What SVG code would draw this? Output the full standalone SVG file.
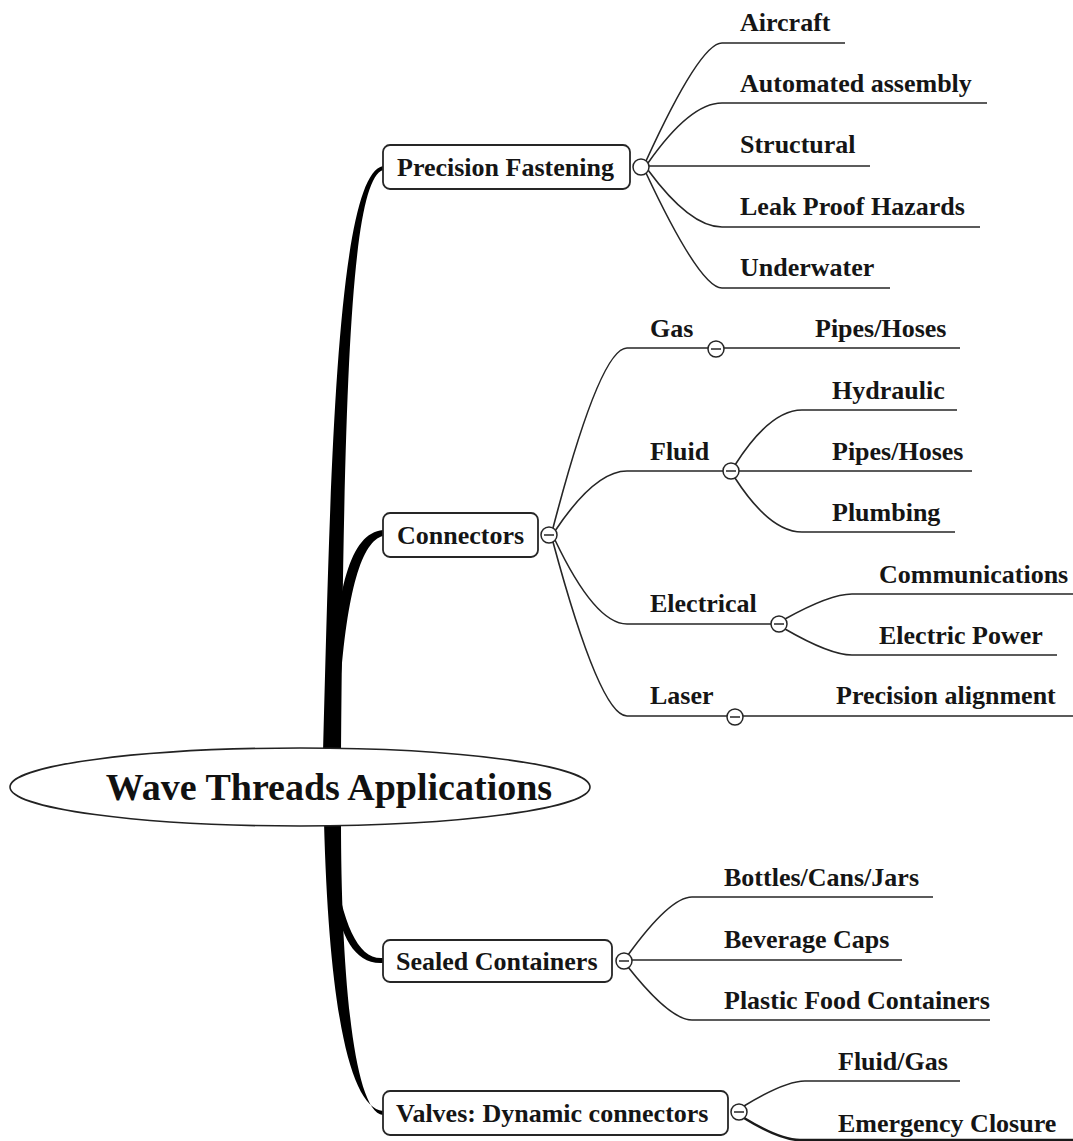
<svg xmlns="http://www.w3.org/2000/svg" width="1073" height="1141" viewBox="0 0 1073 1141">
<style>
.lbl{font-family:"Liberation Serif","Times New Roman",serif;font-weight:bold;font-size:26px;fill:#151515;}
.ttl{font-family:"Liberation Serif","Times New Roman",serif;font-weight:bold;font-size:38px;fill:#111;}
.ln{fill:none;stroke:#262626;stroke-width:1.6;}
.box{fill:#fff;stroke:#262626;stroke-width:1.8;}
.tog{fill:#fff;stroke:#262626;stroke-width:1.5;}
.minus{stroke:#262626;stroke-width:1.5;}
.trunk{fill:#000;}
</style>
<rect width="1073" height="1141" fill="#fff"/>
<g id="connectors">
  <!-- trunk branches -->
  <path class="trunk" d="M323,752 C330,500 335,175 383,166 L383,170 C350,180 344,400 341,752 Z"/>
  <path class="trunk" d="M332,690 C336,590 350,533 383,530 L383,536 C362,541 347,590 340,690 Z"/>
  <path class="trunk" d="M333,860 C343,925 358,960 383,958 L383,963 C355,965 340,935 336,900 Z"/>
  <path class="trunk" d="M324,822 C329,1010 350,1108 383,1111 L383,1115 C352,1112 341,960 341,822 Z"/>
  <!-- Precision Fastening leaves -->
  <path class="ln" d="M646,161 Q700,43 722,43 L845,43"/>
  <path class="ln" d="M648,163 Q690,103 722,103 L987,103"/>
  <path class="ln" d="M649,166 L870,166"/>
  <path class="ln" d="M648,170 Q690,227 722,227 L980,227"/>
  <path class="ln" d="M646,173 Q700,288 722,288 L890,288"/>
  <!-- Connectors branches -->
  <path class="ln" d="M553,528 Q600,348 627,348 L960,348"/>
  <path class="ln" d="M555,531 Q595,471 627,471 L972,471"/>
  <path class="ln" d="M555,540 Q595,624 627,624 L771,624"/>
  <path class="ln" d="M553,542 Q600,716 627,716 L1073,716"/>
  <!-- Fluid leaves -->
  <path class="ln" d="M735,465 Q770,410 802,410 L957,410"/>
  <path class="ln" d="M735,478 Q770,532 802,532 L955,532"/>
  <!-- Electrical leaves -->
  <path class="ln" d="M785,619 Q830,594 852,594 L1073,594"/>
  <path class="ln" d="M785,629 Q830,655 852,655 L1057,655"/>
  <!-- Sealed Containers leaves -->
  <path class="ln" d="M628,955 Q670,897 692,897 L933,897"/>
  <path class="ln" d="M632,960 L902,960"/>
  <path class="ln" d="M628,967 Q670,1020 692,1020 L990,1020"/>
  <!-- Valves leaves -->
  <path class="ln" d="M744,1106 Q785,1081 805,1081 L960,1081"/>
  <path d="M744,1118 Q780,1140 800,1140 L1073,1140" fill="none" stroke="#1a1a1a" stroke-width="2.6"/>
</g>
<g id="root">
  <ellipse cx="300" cy="787" rx="290" ry="39" fill="#fff" stroke="#222" stroke-width="1.6"/>
  <text class="ttl" x="329" y="800" text-anchor="middle">Wave Threads Applications</text>
</g>
<g id="precision-fastening">
  <rect class="box" x="383" y="145" width="247" height="44" rx="7"/>
  <text class="lbl" x="397" y="176">Precision Fastening</text>
  <circle class="tog" cx="641" cy="167" r="8"/>
</g>
<g id="aircraft"><text class="lbl" x="740" y="31">Aircraft</text></g>
<g id="automated-assembly"><text class="lbl" x="740" y="92">Automated assembly</text></g>
<g id="structural"><text class="lbl" x="740" y="153">Structural</text></g>
<g id="leak-proof"><text class="lbl" x="740" y="215">Leak Proof Hazards</text></g>
<g id="underwater"><text class="lbl" x="740" y="276">Underwater</text></g>

<g id="connectors-node">
  <rect class="box" x="383" y="513" width="155" height="44" rx="7"/>
  <text class="lbl" x="397" y="544">Connectors</text>
  <circle class="tog" cx="549" cy="535" r="8"/><line class="minus" x1="544" y1="535" x2="554" y2="535"/>
</g>
<g id="gas">
  <text class="lbl" x="650" y="337">Gas</text>
  <circle class="tog" cx="716" cy="349" r="8"/><line class="minus" x1="711" y1="349" x2="721" y2="349"/>
</g>
<g id="gas-pipes"><text class="lbl" x="815" y="337">Pipes/Hoses</text></g>
<g id="fluid">
  <text class="lbl" x="650" y="460">Fluid</text>
  <circle class="tog" cx="731" cy="471" r="8"/><line class="minus" x1="726" y1="471" x2="736" y2="471"/>
</g>
<g id="hydraulic"><text class="lbl" x="832" y="399">Hydraulic</text></g>
<g id="fluid-pipes"><text class="lbl" x="832" y="460">Pipes/Hoses</text></g>
<g id="plumbing"><text class="lbl" x="832" y="521">Plumbing</text></g>
<g id="electrical">
  <text class="lbl" x="650" y="612">Electrical</text>
  <circle class="tog" cx="779" cy="624" r="8"/><line class="minus" x1="774" y1="624" x2="784" y2="624"/>
</g>
<g id="communications"><text class="lbl" x="879" y="583">Communications</text></g>
<g id="electric-power"><text class="lbl" x="879" y="644">Electric Power</text></g>
<g id="laser">
  <text class="lbl" x="650" y="704">Laser</text>
  <circle class="tog" cx="735" cy="717" r="8"/><line class="minus" x1="730" y1="717" x2="740" y2="717"/>
</g>
<g id="precision-alignment"><text class="lbl" x="836" y="704">Precision alignment</text></g>

<g id="sealed-containers">
  <rect class="box" x="383" y="940" width="229" height="42" rx="7"/>
  <text class="lbl" x="396" y="970">Sealed Containers</text>
  <circle class="tog" cx="624" cy="961" r="8"/><line class="minus" x1="619" y1="961" x2="629" y2="961"/>
</g>
<g id="bottles"><text class="lbl" x="724" y="886">Bottles/Cans/Jars</text></g>
<g id="beverage-caps"><text class="lbl" x="724" y="948">Beverage Caps</text></g>
<g id="plastic-food"><text class="lbl" x="724" y="1009">Plastic Food Containers</text></g>

<g id="valves">
  <rect class="box" x="383" y="1091" width="345" height="44" rx="7"/>
  <text class="lbl" x="396" y="1122">Valves: Dynamic connectors</text>
  <circle class="tog" cx="739" cy="1112" r="8"/><line class="minus" x1="734" y1="1112" x2="744" y2="1112"/>
</g>
<g id="fluid-gas"><text class="lbl" x="838" y="1070">Fluid/Gas</text></g>
<g id="emergency-closure"><text class="lbl" x="838" y="1132">Emergency Closure</text></g>
</svg>
